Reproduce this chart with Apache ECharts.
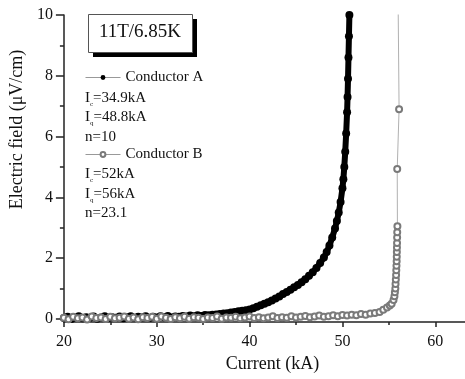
<!DOCTYPE html>
<html>
<head>
<meta charset="utf-8">
<script src="https://cdn.jsdelivr.net/npm/echarts@6/dist/echarts.min.js"></script>
<style>
  html, body { margin: 0; padding: 0; background: #fff; }
  #chart { width: 465px; height: 379px; }
</style>
</head>
<body>
<div id="chart"></div>
<script>
// Conductor A: V-I transition at 11 T / 6.85 K (current in kA, field in uV/cm)
const aCurrent = [20.0,20.4,20.8,21.2,21.6,22.0,22.4,22.8,23.2,23.6,24.0,24.4,24.8,25.2,25.6,26.0,26.4,26.8,27.2,27.6,
  28.0,28.4,28.8,29.2,29.6,30.0,30.4,30.8,31.2,31.6,32.0,32.4,32.8,33.2,33.6,34.0,34.4,34.8,35.2,35.6,
  36.0,36.4,36.8,37.2,37.6,38.0,38.4,38.8,39.2,39.6,40.0,40.4,40.8,41.2,41.6,42.0,42.4,42.8,43.2,43.6,
  44.0,44.4,44.8,45.2,45.6,46.0,46.4,46.8,47.2,47.6,48.0,48.3,48.6,48.9,49.2,49.4,49.6,49.8,50.0,50.1,
  50.2,50.3,50.4,50.5,50.55,50.6,50.65,50.7,50.75];
const aField = [0.03,0.07,0.00,0.05,0.09,0.02,0.06,0.04,0.08,0.01,0.05,0.09,0.03,0.06,0.04,0.08,0.02,0.06,0.09,0.04,
  0.07,0.05,0.09,0.03,0.07,0.05,0.09,0.06,0.10,0.05,0.08,0.07,0.10,0.08,0.11,0.09,0.12,0.10,0.13,0.12,
  0.14,0.15,0.16,0.18,0.19,0.21,0.23,0.25,0.27,0.29,0.31,0.35,0.40,0.45,0.50,0.55,0.61,0.67,0.74,0.82,
  0.89,0.96,1.04,1.12,1.21,1.31,1.42,1.54,1.68,1.84,2.02,2.20,2.42,2.68,2.98,3.22,3.50,3.85,4.30,4.60,
  5.00,5.50,6.10,6.80,7.30,7.90,8.60,9.30,10.0];

// Conductor B
const bCurrent = [20.0,20.5,21.0,21.5,22.0,22.5,23.0,23.5,24.0,24.5,25.0,25.5,26.0,26.5,27.0,27.5,28.0,28.5,29.0,29.5,
  30.0,30.5,31.0,31.5,32.0,32.5,33.0,33.5,34.0,34.5,35.0,35.5,36.0,36.5,37.0,37.5,38.0,38.5,39.0,39.5,
  40.0,40.5,41.0,41.5,42.0,42.5,43.0,43.5,44.0,44.5,45.0,45.5,46.0,46.5,47.0,47.5,48.0,48.5,49.0,49.5,
  50.0,50.5,51.0,51.5,52.0,52.5,53.0,53.5,54.0,54.4,54.8,55.1,55.3,55.5,55.6,55.65,55.7,55.72,55.75,55.78,
  55.8,55.82,55.84,55.85,55.86,55.87,55.88,55.89,55.9,55.92,55.9,56.1,56.0];
const bField = [0.04,-0.01,0.07,0.02,0.05,-0.02,0.08,0.03,0.05,0.00,0.07,0.02,0.04,0.08,0.01,0.05,-0.01,0.06,0.03,0.07,
  0.01,0.08,0.04,0.00,0.06,0.02,0.07,0.01,0.06,0.04,0.00,0.05,0.03,0.08,0.01,0.05,0.04,0.07,0.02,0.05,
  0.08,0.03,0.06,0.02,0.05,0.09,0.03,0.06,0.04,0.09,0.05,0.07,0.10,0.06,0.08,0.11,0.07,0.09,0.12,0.09,
  0.13,0.11,0.14,0.12,0.16,0.14,0.18,0.20,0.23,0.30,0.38,0.44,0.50,0.62,0.75,0.88,1.00,1.15,1.30,1.45,
  1.60,1.75,1.90,2.05,2.20,2.35,2.50,2.68,2.85,3.05,4.93,6.90,10.3];

// Axis ticks
const xMajorTicks = [20, 30, 40, 50, 60];
const xMinorTicks = [25, 35, 45, 55];
const yMajorTicks = [0, 2, 4, 6, 8, 10];
const yMinorTicks = [1, 3, 5, 7, 9];

// Conditions and fitted parameters
const conditionLabel = '11T/6.85K';
const seriesNames = ['Conductor A', 'Conductor B'];
const paramsA = { ic: '34.9kA', iq: '48.8kA', n: '10' };
const paramsB = { ic: '52kA', iq: '56kA', n: '23.1' };

const serif = "'Liberation Serif', 'Times New Roman', serif";
const ink = '#111';
const axisLineStyle = { color: '#222', width: 1.5 };

const pairs = (xs, ys) => xs.map((x, i) => [x, ys[i]]);

const paramText = p => `I{s|c}=${p.ic}\nI{s|q}=${p.iq}\nn=${p.n}`;
const paramStyle = p => ({
  text: paramText(p),
  fontFamily: serif,
  fontSize: 15,
  lineHeight: 19.5,
  fill: ink,
  rich: {
    s: { fontSize: 7, lineHeight: 7, fontFamily: serif, verticalAlign: 'bottom', fill: ink }
  }
});

const chart = echarts.init(document.getElementById('chart'), null, { renderer: 'canvas' });

chart.setOption({
  animation: false,
  backgroundColor: '#fff',
  grid: { left: 62, right: 0, top: 15, bottom: 57, containLabel: false },
  title: {
    text: conditionLabel,
    left: 140,
    top: 23,
    textAlign: 'center',
    padding: 0,
    textStyle: { fontFamily: serif, fontSize: 19, fontWeight: 'normal', color: ink }
  },
  legend: [
    {
      data: [seriesNames[0]], left: 85, top: 70, padding: 0,
      itemWidth: 35, itemHeight: 6, selectedMode: false,
      lineStyle: { width: 1, color: '#999' },
      textStyle: { fontFamily: serif, fontSize: 15, color: ink }
    },
    {
      data: [seriesNames[1]], left: 85, top: 147, padding: 0,
      itemWidth: 35, itemHeight: 6, selectedMode: false,
      lineStyle: { width: 1, color: '#999' },
      textStyle: { fontFamily: serif, fontSize: 15, color: ink }
    }
  ],
  graphic: [
    // framed condition box with a solid drop shadow
    { type: 'rect', left: 93, top: 19, z: 1, shape: { width: 104, height: 38 }, style: { fill: '#000' } },
    { type: 'rect', left: 88, top: 14, z: 2, shape: { width: 104, height: 38 },
      style: { fill: '#fff', stroke: '#555', lineWidth: 1 } },
    { type: 'text', left: 85, top: 88, style: paramStyle(paramsA) },
    { type: 'text', left: 85, top: 164.5, style: paramStyle(paramsB) }
  ],
  xAxis: [
    {
      type: 'value', min: 20, max: 63.2,
      name: 'Current (kA)', nameLocation: 'middle', nameGap: 33,
      nameTextStyle: { fontFamily: serif, fontSize: 18, color: ink, padding: [0, 0, 0, 16] },
      axisLine: { show: true, onZero: false, lineStyle: axisLineStyle },
      axisTick: { show: true, customValues: xMajorTicks, length: 5, lineStyle: axisLineStyle },
      axisLabel: { customValues: xMajorTicks, margin: 12, fontFamily: serif, fontSize: 16, color: ink },
      splitLine: { show: false }
    },
    {
      type: 'value', min: 20, max: 63.2, position: 'bottom',
      axisLine: { show: false, onZero: false },
      axisTick: { show: true, customValues: xMinorTicks, length: 3, lineStyle: axisLineStyle },
      axisLabel: { show: false },
      splitLine: { show: false }
    }
  ],
  yAxis: [
    {
      type: 'value', min: -0.1, max: 10,
      name: 'Electric field (μV/cm)', nameLocation: 'middle', nameGap: 32, nameRotate: 90,
      nameTextStyle: { fontFamily: serif, fontSize: 18, color: ink, padding: [0, 0, 0, 78] },
      axisLine: { show: true, onZero: false, lineStyle: axisLineStyle },
      axisTick: { show: true, customValues: yMajorTicks, length: 8, lineStyle: axisLineStyle },
      axisLabel: { customValues: yMajorTicks, margin: 11, fontFamily: serif, fontSize: 16, color: ink },
      splitLine: { show: false }
    },
    {
      type: 'value', min: -0.1, max: 10, position: 'left',
      axisLine: { show: false, onZero: false },
      axisTick: { show: true, customValues: yMinorTicks, length: 4, lineStyle: axisLineStyle },
      axisLabel: { show: false },
      splitLine: { show: false }
    }
  ],
  series: [
    {
      name: seriesNames[0],
      type: 'line',
      xAxisIndex: 0, yAxisIndex: 0,
      data: pairs(aCurrent, aField),
      symbol: 'circle', symbolSize: 8, showAllSymbol: true,
      itemStyle: { color: '#000' },
      lineStyle: { color: '#000', width: 6 },
      clip: true, z: 2
    },
    {
      name: seriesNames[1],
      type: 'line',
      xAxisIndex: 0, yAxisIndex: 0,
      data: pairs(bCurrent, bField),
      symbol: 'emptyCircle', symbolSize: 6, showAllSymbol: true,
      itemStyle: { color: '#7a7a7a', borderWidth: 1 },
      lineStyle: { color: '#b0b0b0', width: 1 },
      clip: true, z: 3
    }
  ]
});
</script>
</body>
</html>
